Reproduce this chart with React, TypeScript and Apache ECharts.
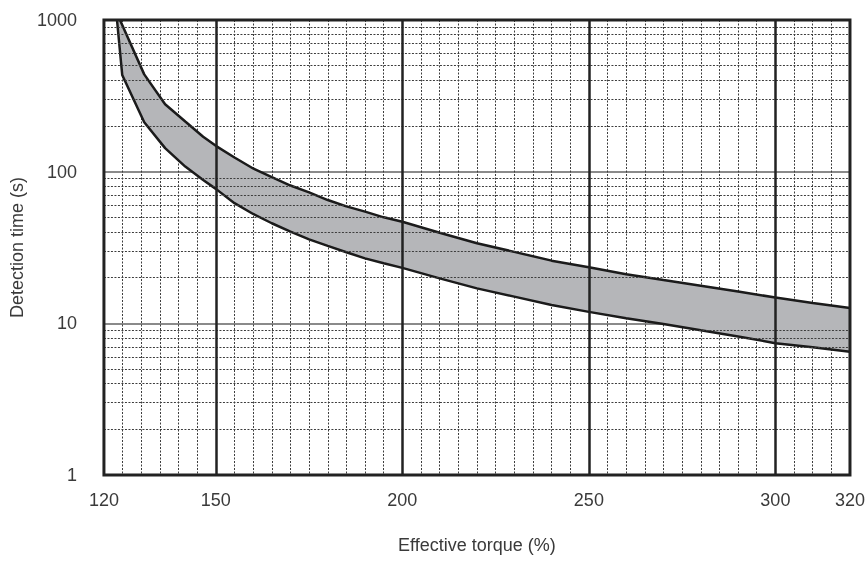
import React, { useEffect, useRef } from "react";
import * as echarts from "echarts";

// Upper boundary of the detection-time band (torque %, seconds)
const upperTorque = [124.3, 130.8, 136.4, 141.8, 146.6, 150, 155, 160, 165, 170, 175, 180, 185, 190, 195, 200, 210, 220, 230, 240, 250, 260, 270, 280, 290, 300, 310, 320];
const upperTime = [1000, 438, 278, 214, 170, 148, 124, 105, 92, 81, 73, 65, 59, 54.5, 50, 46.8, 39.6, 33.7, 29.6, 25.9, 23.4, 21.1, 19.3, 17.7, 16.2, 14.8, 13.6, 12.6];

// Lower boundary of the band
const lowerTorque = [123.5, 124.9, 130.8, 136.4, 141.8, 146.6, 150, 155, 160, 165, 170, 175, 180, 185, 190, 195, 200, 210, 220, 230, 240, 250, 260, 270, 280, 290, 300, 310, 320];
const lowerTime = [1000, 434, 212, 143, 108, 88, 77, 62, 52.6, 45.7, 40.2, 35.8, 32.4, 29.4, 26.8, 24.9, 23.2, 19.8, 17.0, 15.0, 13.2, 11.9, 10.8, 9.9, 9.0, 8.2, 7.4, 6.95, 6.5];

// Axis ticks
const xTickLabels = [120, 150, 200, 250, 300, 320];
const xMajorLines = [150, 200, 250, 300];
const yMinorLines = [2, 3, 4, 5, 6, 7, 8, 9, 20, 30, 40, 50, 60, 70, 80, 90, 200, 300, 400, 500, 600, 700, 800, 900];

const FONT = "'Liberation Sans', Arial, Helvetica, sans-serif";
const TEXT_COLOR = "#3a3a3a";

export default function App() {
  const ref = useRef<HTMLDivElement>(null);

  useEffect(() => {
    if (!ref.current) return;
    const chart = echarts.init(ref.current, undefined, { renderer: "svg" });

    const upper = upperTorque.map((x, i) => [x, upperTime[i]]);
    const lower = lowerTorque.map((x, i) => [x, lowerTime[i]]);

    const gridLines = [
      ...yMinorLines.map((v) => ({
        yAxis: v,
        lineStyle: { color: "#3d3d3d", width: 1, type: [2, 1.5] as any },
      })),
      ...xMajorLines.map((v) => ({
        xAxis: v,
        lineStyle: { color: "#222", width: 2.5, type: "solid" as any },
      })),
    ];

    chart.setOption({
      animation: false,
      grid: {
        left: 100,
        right: 17,
        top: 20,
        bottom: 88,
        show: true,
        borderColor: "#222",
        borderWidth: 3,
        z: 10,
      },
      xAxis: {
        type: "value",
        min: 120,
        max: 320,
        interval: 5,
        name: "Effective torque (%)",
        nameLocation: "middle",
        nameGap: 61,
        nameTextStyle: { fontFamily: FONT, fontSize: 18, color: TEXT_COLOR },
        axisLine: { show: false },
        axisTick: { show: false },
        axisLabel: {
          margin: 16,
          fontFamily: FONT,
          fontSize: 18,
          color: TEXT_COLOR,
          showMinLabel: true,
          showMaxLabel: true,
          formatter: (v: number) => (xTickLabels.includes(v) ? String(v) : ""),
        },
        splitLine: {
          show: true,
          showMinLine: false,
          showMaxLine: false,
          lineStyle: { color: "#3d3d3d", width: 1, type: [2, 1.5] },
        },
      },
      yAxis: {
        type: "log",
        logBase: 10,
        min: 1,
        max: 1000,
        name: "Detection time (s)",
        nameLocation: "middle",
        nameGap: 69,
        nameTextStyle: { fontFamily: FONT, fontSize: 18, color: TEXT_COLOR },
        axisLine: { show: false },
        axisTick: { show: false },
        axisLabel: {
          margin: 27,
          fontFamily: FONT,
          fontSize: 18,
          color: TEXT_COLOR,
          formatter: (v: number) => String(Math.round(v)),
        },
        splitLine: {
          show: true,
          showMinLine: false,
          showMaxLine: false,
          lineStyle: { color: "#8a8a8a", width: 2 },
        },
      },
      series: [
        {
          type: "line",
          data: [],
          z: 1,
          silent: true,
          markLine: {
            silent: true,
            symbol: ["none", "none"],
            label: { show: false },
            emphasis: { disabled: true },
            data: gridLines,
          },
        },
        {
          type: "custom",
          z: 3,
          silent: true,
          clip: true,
          data: [upper[0]],
          renderItem: (_params: any, api: any) => {
            const pts = [
              ...upper.map((p) => api.coord(p)),
              ...lower
                .slice()
                .reverse()
                .map((p) => api.coord(p)),
            ];
            return {
              type: "polygon",
              shape: { points: pts },
              style: { fill: "#b5b6b9", stroke: "none" },
            };
          },
        },
        {
          type: "line",
          z: 4,
          data: upper,
          showSymbol: false,
          silent: true,
          clip: true,
          lineStyle: { color: "#1b1b1b", width: 2.5 },
        },
        {
          type: "line",
          z: 4,
          data: lower,
          showSymbol: false,
          silent: true,
          clip: true,
          lineStyle: { color: "#1b1b1b", width: 2.5 },
        },
      ],
    });

    return () => chart.dispose();
  }, []);

  return (
    <div
      ref={ref}
      style={{ position: "fixed", left: 0, top: 0, width: 868, height: 563 }}
    />
  );
}
